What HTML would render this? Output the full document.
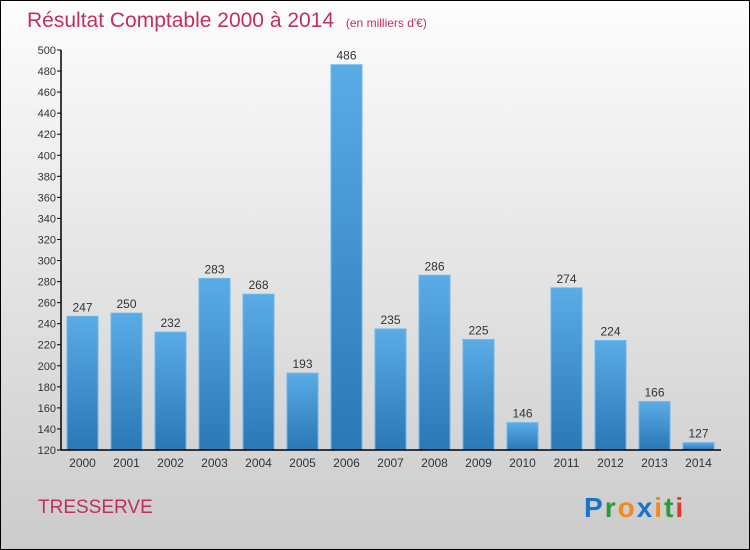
<!DOCTYPE html>
<html><head><meta charset="utf-8"><style>
body{margin:0}
#c{width:748px;height:548px;border:1px solid #000;background:linear-gradient(#fdfdfd,#cbcbcb);position:relative;font-family:"Liberation Sans",sans-serif;overflow:hidden}
</style></head><body>
<div id="c">
<svg width="748" height="548">
<defs><linearGradient id="g" x1="0" y1="0" x2="0" y2="1"><stop offset="0" stop-color="#5aabe6"/><stop offset="1" stop-color="#2a78b6"/></linearGradient></defs>
<text x="26" y="26" font-size="21" fill="#c0305f">Résultat Comptable 2000 à 2014 <tspan font-size="12" dx="6">(en milliers d'€)</tspan></text>
<g id="yax"></g>
<g id="bars"></g>
<g id="xax"></g>
<text x="37" y="512" font-size="19" fill="#c0305f">TRESSERVE</text>
<text x="583" y="516" font-size="28" font-weight="bold" letter-spacing="2"><tspan fill="#1a73c8">P</tspan><tspan fill="#2a9a3a">r</tspan><tspan fill="#f08a1c">o</tspan><tspan fill="#1a73c8">x</tspan><tspan fill="#f08a1c">i</tspan><tspan fill="#2a9a3a">t</tspan><tspan fill="#e03a2a">i</tspan></text>
</svg></div>
<script>
const years=["2000","2001","2002","2003","2004","2005","2006","2007","2008","2009","2010","2011","2012","2013","2014"];
const values=[247,250,232,283,268,193,486,235,286,225,146,274,224,166,127];
const yTicks=[120,140,160,180,200,220,240,260,280,300,320,340,360,380,400,420,440,460,480,500];
const NS="http://www.w3.org/2000/svg";
const y0=449,yTop=49,vmin=120,vmax=500;
const Y=v=>y0-(v-vmin)/(vmax-vmin)*(y0-yTop);
const X=i=>66+i*44;
function mk(t,a,p){const e=document.createElementNS(NS,t);for(const k in a)e.setAttribute(k,a[k]);p.appendChild(e);return e;}
const ya=document.getElementById('yax'),ba=document.getElementById('bars'),xa=document.getElementById('xax');
yTicks.forEach(v=>{
 const y=Y(v);
 const l=mk('line',{x1:56,x2:60,y1:y,y2:y,stroke:'#000'},ya);
 
 
 const t=mk('text',{x:55,y:y+4,'text-anchor':'end','font-size':11,fill:'#333'},ya);t.textContent=v;
 
 
});
const al=mk('line',{x1:60,x2:60,y1:yTop,y2:y0,stroke:'#000','stroke-width':1.5},ya);


values.forEach((v,i)=>{
 const x=X(i),y=Y(v);
 const r=mk('rect',{x:x,y:y,width:31,height:y0-y,fill:'url(#g)',stroke:'#6bb8ee','stroke-width':1},ba);
 
 
 const t=mk('text',{x:x+15.5,y:y-5,'text-anchor':'middle','font-size':12,fill:'#333'},ba);t.textContent=v;
 
 
 const xl=mk('text',{x:x+15.5,y:466,'text-anchor':'middle','font-size':12,fill:'#333'},xa);xl.textContent=years[i];
 
 
});
const bl=mk('line',{x1:60,x2:720,y1:y0,y2:y0,stroke:'#000','stroke-width':1.5},xa);


</script>
</body></html>
